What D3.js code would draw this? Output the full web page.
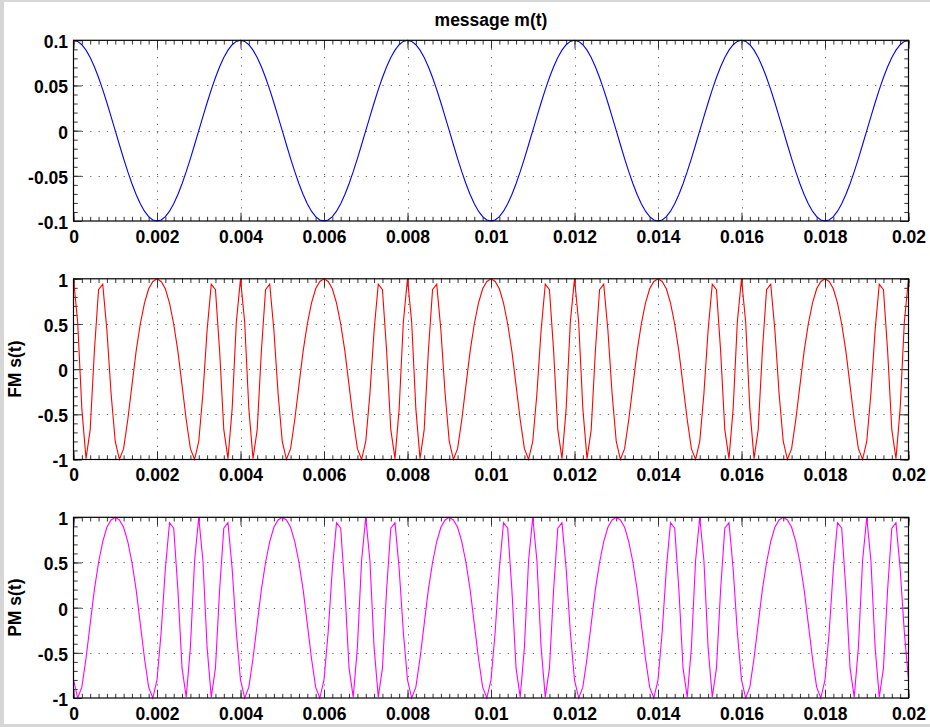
<!DOCTYPE html>
<html>
<head>
<meta charset="utf-8">
<script src="https://cdn.jsdelivr.net/npm/d3@7"></script>
<style>
  body { margin: 0; background: #fff; }
  svg { display: block; }
  text { font-family: Arial, "Liberation Sans", Helvetica, sans-serif; font-weight: bold; fill: #000; }
</style>
</head>
<body>
<svg id="fig" width="930" height="727"></svg>
<script>
// Sampling interval of every series (seconds)
const sampleStep = 0.0001;

// Message m(t), sampled
const messageValues = [
  0.1, 0.0988, 0.0951, 0.0891, 0.0809, 0.0707, 0.0588, 0.0454, 0.0309, 0.0156, 0, -0.0156, -0.0309, -0.0454, -0.0588, -0.0707, -0.0809, -0.0891, -0.0951, -0.0988,
  -0.1, -0.0988, -0.0951, -0.0891, -0.0809, -0.0707, -0.0588, -0.0454, -0.0309, -0.0156, 0, 0.0156, 0.0309, 0.0454, 0.0588, 0.0707, 0.0809, 0.0891, 0.0951, 0.0988,
  0.1, 0.0988, 0.0951, 0.0891, 0.0809, 0.0707, 0.0588, 0.0454, 0.0309, 0.0156, 0, -0.0156, -0.0309, -0.0454, -0.0588, -0.0707, -0.0809, -0.0891, -0.0951, -0.0988,
  -0.1, -0.0988, -0.0951, -0.0891, -0.0809, -0.0707, -0.0588, -0.0454, -0.0309, -0.0156, 0, 0.0156, 0.0309, 0.0454, 0.0588, 0.0707, 0.0809, 0.0891, 0.0951, 0.0988,
  0.1, 0.0988, 0.0951, 0.0891, 0.0809, 0.0707, 0.0588, 0.0454, 0.0309, 0.0156, 0, -0.0156, -0.0309, -0.0454, -0.0588, -0.0707, -0.0809, -0.0891, -0.0951, -0.0988,
  -0.1, -0.0988, -0.0951, -0.0891, -0.0809, -0.0707, -0.0588, -0.0454, -0.0309, -0.0156, 0, 0.0156, 0.0309, 0.0454, 0.0588, 0.0707, 0.0809, 0.0891, 0.0951, 0.0988,
  0.1, 0.0988, 0.0951, 0.0891, 0.0809, 0.0707, 0.0588, 0.0454, 0.0309, 0.0156, 0, -0.0156, -0.0309, -0.0454, -0.0588, -0.0707, -0.0809, -0.0891, -0.0951, -0.0988,
  -0.1, -0.0988, -0.0951, -0.0891, -0.0809, -0.0707, -0.0588, -0.0454, -0.0309, -0.0156, 0, 0.0156, 0.0309, 0.0454, 0.0588, 0.0707, 0.0809, 0.0891, 0.0951, 0.0988,
  0.1, 0.0988, 0.0951, 0.0891, 0.0809, 0.0707, 0.0588, 0.0454, 0.0309, 0.0156, 0, -0.0156, -0.0309, -0.0454, -0.0588, -0.0707, -0.0809, -0.0891, -0.0951, -0.0988,
  -0.1, -0.0988, -0.0951, -0.0891, -0.0809, -0.0707, -0.0588, -0.0454, -0.0309, -0.0156, 0, 0.0156, 0.0309, 0.0454, 0.0588, 0.0707, 0.0809, 0.0891, 0.0951, 0.0988,
  0.1
];

// Frequency-modulated carrier s(t), sampled
const fmValues = [
  1, 0.52, -0.44, -0.99, -0.67, 0.2, 0.88, 0.94, 0.43, -0.27, -0.8, -1, -0.88, -0.56, -0.18, 0.2, 0.5, 0.73, 0.89, 0.97,
  1, 0.97, 0.89, 0.73, 0.5, 0.2, -0.18, -0.56, -0.88, -1, -0.8, -0.27, 0.43, 0.94, 0.88, 0.2, -0.67, -0.99, -0.44, 0.52,
  1, 0.52, -0.44, -0.99, -0.67, 0.2, 0.88, 0.94, 0.43, -0.27, -0.8, -1, -0.88, -0.56, -0.18, 0.2, 0.5, 0.73, 0.89, 0.97,
  1, 0.97, 0.89, 0.73, 0.5, 0.2, -0.18, -0.56, -0.88, -1, -0.8, -0.27, 0.43, 0.94, 0.88, 0.2, -0.67, -0.99, -0.44, 0.52,
  1, 0.52, -0.44, -0.99, -0.67, 0.2, 0.88, 0.94, 0.43, -0.27, -0.8, -1, -0.88, -0.56, -0.18, 0.2, 0.5, 0.73, 0.89, 0.97,
  1, 0.97, 0.89, 0.73, 0.5, 0.2, -0.18, -0.56, -0.88, -1, -0.8, -0.27, 0.43, 0.94, 0.88, 0.2, -0.67, -0.99, -0.44, 0.52,
  1, 0.52, -0.44, -0.99, -0.67, 0.2, 0.88, 0.94, 0.43, -0.27, -0.8, -1, -0.88, -0.56, -0.18, 0.2, 0.5, 0.73, 0.89, 0.97,
  1, 0.97, 0.89, 0.73, 0.5, 0.2, -0.18, -0.56, -0.88, -1, -0.8, -0.27, 0.43, 0.94, 0.88, 0.2, -0.67, -0.99, -0.44, 0.52,
  1, 0.52, -0.44, -0.99, -0.67, 0.2, 0.88, 0.94, 0.43, -0.27, -0.8, -1, -0.88, -0.56, -0.18, 0.2, 0.5, 0.73, 0.89, 0.97,
  1, 0.97, 0.89, 0.73, 0.5, 0.2, -0.18, -0.56, -0.88, -1, -0.8, -0.27, 0.43, 0.94, 0.88, 0.2, -0.67, -0.99, -0.44, 0.52,
  1
];

// Phase-modulated carrier s(t), sampled
const pmValues = [
  -0.8, -1, -0.88, -0.56, -0.18, 0.2, 0.5, 0.73, 0.89, 0.97, 1, 0.97, 0.89, 0.73, 0.5, 0.2, -0.18, -0.56, -0.88, -1,
  -0.8, -0.27, 0.43, 0.94, 0.88, 0.2, -0.67, -0.99, -0.44, 0.52, 1, 0.52, -0.44, -0.99, -0.67, 0.2, 0.88, 0.94, 0.43, -0.27,
  -0.8, -1, -0.88, -0.56, -0.18, 0.2, 0.5, 0.73, 0.89, 0.97, 1, 0.97, 0.89, 0.73, 0.5, 0.2, -0.18, -0.56, -0.88, -1,
  -0.8, -0.27, 0.43, 0.94, 0.88, 0.2, -0.67, -0.99, -0.44, 0.52, 1, 0.52, -0.44, -0.99, -0.67, 0.2, 0.88, 0.94, 0.43, -0.27,
  -0.8, -1, -0.88, -0.56, -0.18, 0.2, 0.5, 0.73, 0.89, 0.97, 1, 0.97, 0.89, 0.73, 0.5, 0.2, -0.18, -0.56, -0.88, -1,
  -0.8, -0.27, 0.43, 0.94, 0.88, 0.2, -0.67, -0.99, -0.44, 0.52, 1, 0.52, -0.44, -0.99, -0.67, 0.2, 0.88, 0.94, 0.43, -0.27,
  -0.8, -1, -0.88, -0.56, -0.18, 0.2, 0.5, 0.73, 0.89, 0.97, 1, 0.97, 0.89, 0.73, 0.5, 0.2, -0.18, -0.56, -0.88, -1,
  -0.8, -0.27, 0.43, 0.94, 0.88, 0.2, -0.67, -0.99, -0.44, 0.52, 1, 0.52, -0.44, -0.99, -0.67, 0.2, 0.88, 0.94, 0.43, -0.27,
  -0.8, -1, -0.88, -0.56, -0.18, 0.2, 0.5, 0.73, 0.89, 0.97, 1, 0.97, 0.89, 0.73, 0.5, 0.2, -0.18, -0.56, -0.88, -1,
  -0.8, -0.27, 0.43, 0.94, 0.88, 0.2, -0.67, -0.99, -0.44, 0.52, 1, 0.52, -0.44, -0.99, -0.67, 0.2, 0.88, 0.94, 0.43, -0.27,
  -0.8
];

// Axis ticks and their labels
const timeTicks = [0, 0.002, 0.004, 0.006, 0.008, 0.01, 0.012, 0.014, 0.016, 0.018, 0.02];
const timeTickLabels = ["0", "0.002", "0.004", "0.006", "0.008", "0.01", "0.012", "0.014", "0.016", "0.018", "0.02"];
const messageTicks = [-0.1, -0.05, 0, 0.05, 0.1];
const messageTickLabels = ["-0.1", "-0.05", "0", "0.05", "0.1"];
const carrierTicks = [-1, -0.5, 0, 0.5, 1];
const carrierTickLabels = ["-1", "-0.5", "0", "0.5", "1"];

const W = 930, H = 727;
const left = 73.5, right = 908.5;
const plotH = 180.7;
const majorLen = 8.3, minorLen = 4.2;

const svg = d3.select("#fig");

// window frame and white figure area
svg.append("rect").attr("width", W).attr("height", H).attr("fill", "#d6d6d6");
svg.append("rect").attr("x", 4).attr("y", 2).attr("width", W - 4).attr("height", H - 5).attr("fill", "#fff");

const x = d3.scaleLinear().domain([0, 0.02]).range([left, right]);

const panels = [
  { values: messageValues, color: "#0000ff", domain: [-0.1, 0.1], ticks: messageTicks, labels: messageTickLabels,
    minorStep: 0.01, top: 40.3, title: "message m(t)", ylabel: null },
  { values: fmValues, color: "#ff0000", domain: [-1, 1], ticks: carrierTicks, labels: carrierTickLabels,
    minorStep: 0.1, top: 278.8, title: null, ylabel: "FM s(t)" },
  { values: pmValues, color: "#ff00ff", domain: [-1, 1], ticks: carrierTicks, labels: carrierTickLabels,
    minorStep: 0.1, top: 517.3, title: null, ylabel: "PM s(t)" }
];

const xMinor = d3.range(0, 0.02 + 1e-9, 0.0002);

panels.forEach(p => {
  const y = d3.scaleLinear().domain(p.domain).range([p.top + plotH, p.top]);
  const g = svg.append("g");
  const bottom = p.top + plotH;
  const yMinor = d3.range(p.domain[0], p.domain[1] + 1e-9, p.minorStep);

  // dotted grid at the major ticks
  const grid = g.append("g").attr("stroke", "#222").attr("stroke-width", 1)
    .attr("stroke-dasharray", "1.2,7.15").attr("opacity", 0.7);
  grid.selectAll("line.v").data(timeTicks.slice(1, -1)).join("line")
    .attr("class", "v")
    .attr("x1", d => Math.round(x(d)) + 0.5).attr("x2", d => Math.round(x(d)) + 0.5)
    .attr("y1", p.top).attr("y2", bottom);
  grid.selectAll("line.h").data(p.ticks.slice(1, -1)).join("line")
    .attr("class", "h")
    .attr("y1", d => Math.round(y(d)) + 0.5).attr("y2", d => Math.round(y(d)) + 0.5)
    .attr("x1", left).attr("x2", right);

  // minor ticks on all four sides
  const minorG = g.append("g").attr("color", "#333");
  minorG.append("g").attr("transform", `translate(0,${bottom})`)
    .call(d3.axisBottom(x).tickValues(xMinor).tickSize(-minorLen).tickFormat(""));
  minorG.append("g").attr("transform", `translate(0,${p.top})`)
    .call(d3.axisTop(x).tickValues(xMinor).tickSize(-minorLen).tickFormat(""));
  minorG.append("g").attr("transform", `translate(${left},0)`)
    .call(d3.axisLeft(y).tickValues(yMinor).tickSize(-minorLen).tickFormat(""));
  minorG.append("g").attr("transform", `translate(${right},0)`)
    .call(d3.axisRight(y).tickValues(yMinor).tickSize(-minorLen).tickFormat(""));

  // major ticks with labels on the bottom and left
  const majorG = g.append("g").attr("color", "#333");
  majorG.append("g").attr("transform", `translate(0,${bottom})`)
    .call(d3.axisBottom(x).tickValues(timeTicks).tickSize(-majorLen).tickPadding(9.5)
      .tickFormat((d, i) => timeTickLabels[i]));
  majorG.append("g").attr("transform", `translate(0,${p.top})`)
    .call(d3.axisTop(x).tickValues(timeTicks).tickSize(-majorLen).tickFormat(""));
  const yl = majorG.append("g").attr("transform", `translate(${left},0)`)
    .call(d3.axisLeft(y).tickValues(p.ticks).tickSize(-majorLen).tickPadding(5.5)
      .tickFormat((d, i) => p.labels[i]));
  majorG.append("g").attr("transform", `translate(${right},0)`)
    .call(d3.axisRight(y).tickValues(p.ticks).tickSize(-majorLen).tickFormat(""));

  g.selectAll(".domain").remove();
  g.selectAll(".tick text").attr("font-size", 17.5).attr("font-family", null).attr("fill", "#000");
  yl.selectAll(".tick text").attr("dy", "0.42em");

  // the series
  const line = d3.line().x((d, i) => x(i * sampleStep)).y(d => y(d));
  g.append("path").datum(p.values)
    .attr("d", line)
    .attr("fill", "none")
    .attr("stroke", p.color)
    .attr("stroke-width", 1.1)
    .attr("stroke-linejoin", "miter");

  // axes box
  g.append("rect")
    .attr("x", left).attr("y", p.top)
    .attr("width", right - left).attr("height", plotH)
    .attr("fill", "none").attr("stroke", "#000").attr("stroke-width", 1.2);

  if (p.title) {
    svg.append("text").attr("x", (left + right) / 2).attr("y", p.top - 14)
      .attr("text-anchor", "middle").attr("font-size", 17.5).text(p.title);
  }
  if (p.ylabel) {
    svg.append("text")
      .attr("transform", `translate(21,${p.top + plotH / 2}) rotate(-90)`)
      .attr("text-anchor", "middle").attr("font-size", 17.5).text(p.ylabel);
  }
});
</script>
</body>
</html>
